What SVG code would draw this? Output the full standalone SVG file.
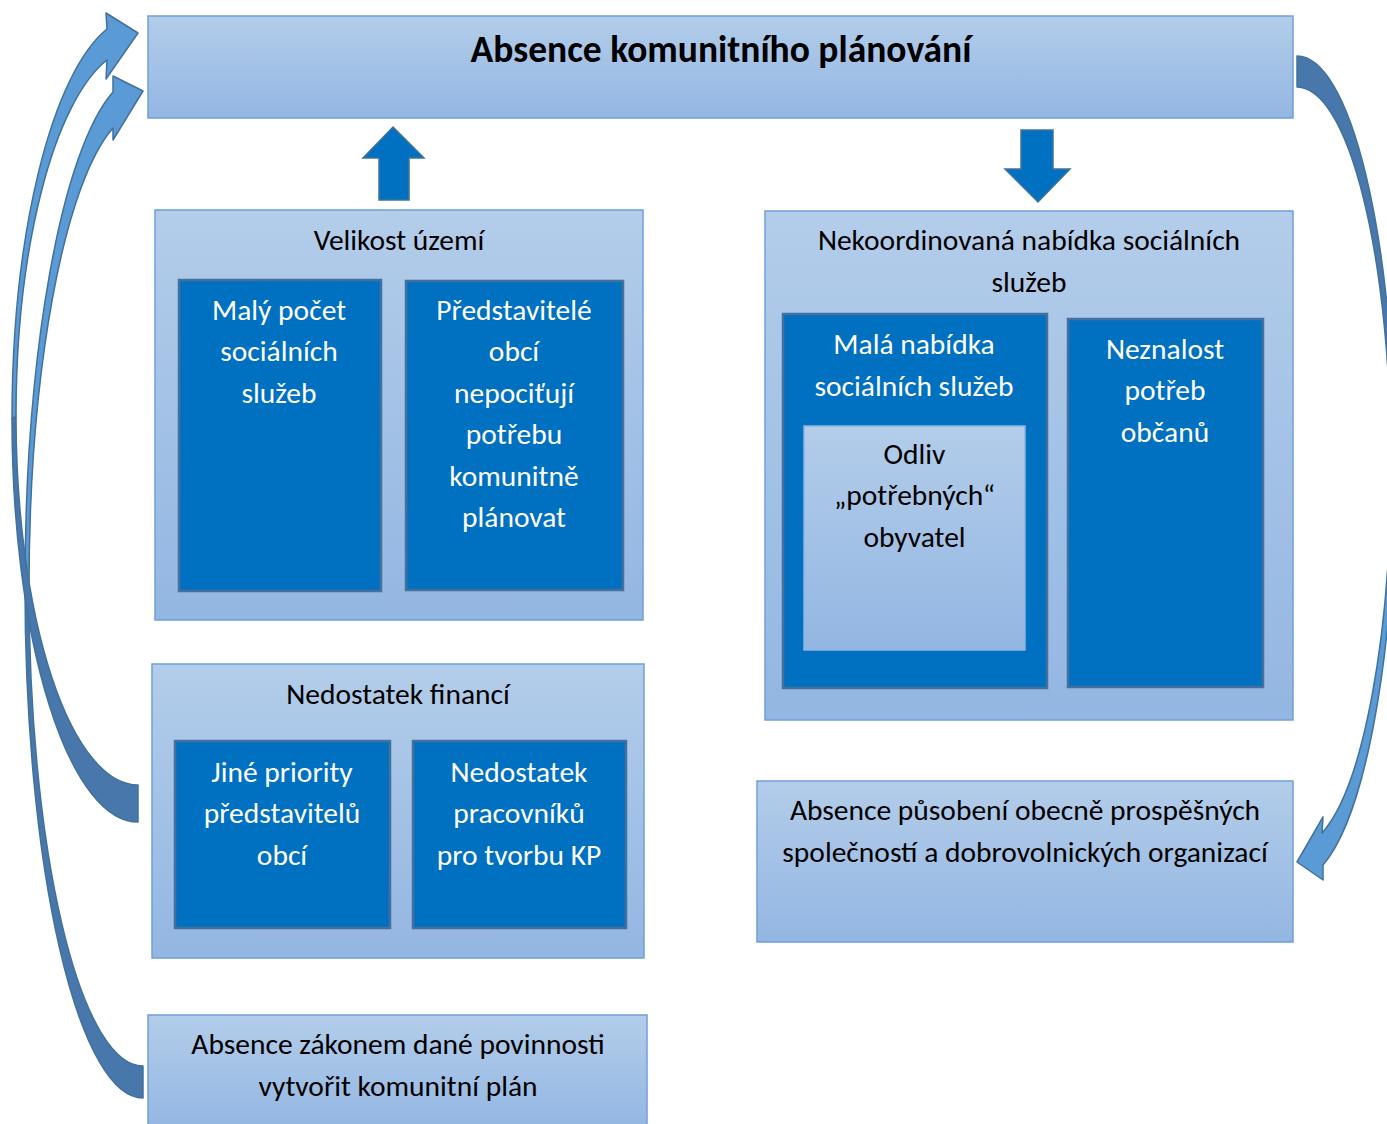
<svg xmlns="http://www.w3.org/2000/svg" width="1387" height="1124" viewBox="0 0 1387 1124">
<defs>
<linearGradient id="lg" x1="0" y1="0" x2="0" y2="1">
<stop offset="0" stop-color="#B3CDEA"/>
<stop offset="1" stop-color="#93B6E2"/>
</linearGradient>
<style>
.light{fill:url(#lg);stroke:#6FA1D9;stroke-width:1.5}
.dark{fill:#0070C0;stroke:#43709C;stroke-width:2.5}
.blk{fill:#000;font-family:Carlito,Lato,"Liberation Sans",sans-serif;font-size:29.5px;text-anchor:middle}
.wht{fill:#fff;font-family:Carlito,Lato,"Liberation Sans",sans-serif;font-size:29.5px;text-anchor:middle}
.ttl{fill:#000;font-family:Carlito,Lato,"Liberation Sans",sans-serif;font-size:37.5px;font-weight:bold;text-anchor:middle}
.front{fill:#5B9BD5;stroke:#41719C;stroke-width:1.5;stroke-linejoin:round}
.back{fill:#4878AB;stroke:#41719C;stroke-width:1.5;stroke-linejoin:round}
.blk-arrow{fill:#0070C0;stroke:#41719C;stroke-width:1.5}
</style>
</defs>
<rect width="1387" height="1124" fill="#fff"/>

<g id="connectors">
<polygon class="blk-arrow" points="393,127 424,158 409,158 409,200 379,200 379,158 363,158"/>
<polygon class="blk-arrow" points="1021,130 1053,130 1053,169 1070,169 1038,202 1005,169 1021,169"/>
<path class="back" d="M25,587 A118 511.4 0 0 0 143,1098 L143,1066 A114 477.4 0 0 1 29,589 Z"/>
<path class="front" d="M143,91 L113,76 L113,92 A118 511.4 0 0 0 25,587 L29,589 A114 477.4 0 0 1 113,128 L113,140 Z"/>
<path class="back" d="M12,419 A126 403 0 0 0 138,822 L138,785 A122 368.6 0 0 1 16,416 Z"/>
<path class="front" d="M138,33 L106,13 L107,29 A126 403 0 0 0 12,419 L16,416 A122 368.6 0 0 1 107,60 L106,79 Z"/>
<path class="back" d="M1297,56 A98 411.9 0 0 1 1395,467.9 L1391,466.8 A94 379.8 0 0 0 1297,87 Z"/>
<path class="front" d="M1395,467.9 A98 411.9 0 0 1 1323,865 L1323,880 L1297,862 L1323,817 L1322,833 A94 379.8 0 0 0 1391,466.8 Z"/>
</g>

<g id="top">
<rect class="light" x="148" y="16" width="1145" height="102"/>
<text class="ttl" x="721" y="62">Absence komunitního plánování</text>
</g>

<g id="velikost">
<rect class="light" x="155" y="210" width="488" height="410"/>
<text class="blk" x="399" y="249.5">Velikost území</text>
</g>
<g id="maly-pocet">
<rect class="dark" x="179" y="280" width="202" height="311"/>
<text class="wht" x="279" y="319.5">Malý počet</text>
<text class="wht" x="279" y="361">sociálních</text>
<text class="wht" x="279" y="402.5">služeb</text>
</g>
<g id="predstavitele">
<rect class="dark" x="406" y="281" width="217" height="309"/>
<text class="wht" x="514" y="319.5">Představitelé</text>
<text class="wht" x="514" y="361">obcí</text>
<text class="wht" x="514" y="402.5">nepociťují</text>
<text class="wht" x="514" y="444">potřebu</text>
<text class="wht" x="514" y="485.5">komunitně</text>
<text class="wht" x="514" y="527">plánovat</text>
</g>

<g id="financi">
<rect class="light" x="152" y="664" width="492" height="294"/>
<text class="blk" x="398" y="703.5">Nedostatek financí</text>
</g>
<g id="priority">
<rect class="dark" x="175" y="741" width="215" height="187"/>
<text class="wht" x="282" y="781.5">Jiné priority</text>
<text class="wht" x="282" y="823">představitelů</text>
<text class="wht" x="282" y="864.5">obcí</text>
</g>
<g id="pracovniku">
<rect class="dark" x="413" y="741" width="213" height="187"/>
<text class="wht" x="519" y="781.5">Nedostatek</text>
<text class="wht" x="519" y="823">pracovníků</text>
<text class="wht" x="519" y="864.5">pro tvorbu KP</text>
</g>

<g id="zakon">
<rect class="light" x="148" y="1015" width="499" height="114"/>
<text class="blk" x="398" y="1053.5">Absence zákonem dané povinnosti</text>
<text class="blk" x="398" y="1095.5">vytvořit komunitní plán</text>
</g>

<g id="nekoordinovana">
<rect class="light" x="765" y="211" width="528" height="509"/>
<text class="blk" x="1029" y="249.5">Nekoordinovaná nabídka sociálních</text>
<text class="blk" x="1029" y="291.5">služeb</text>
</g>
<g id="mala-nabidka">
<rect class="dark" x="783" y="314" width="264" height="374"/>
<text class="wht" x="914" y="354">Malá nabídka</text>
<text class="wht" x="914" y="395.5">sociálních služeb</text>
</g>
<g id="odliv">
<rect class="light" x="804" y="426" width="221" height="224" style="stroke:#8DB4E2"/>
<text class="blk" x="914.5" y="463.5">Odliv</text>
<text class="blk" x="914.5" y="505">„potřebných“</text>
<text class="blk" x="914.5" y="546.5">obyvatel</text>
</g>
<g id="neznalost">
<rect class="dark" x="1068" y="319" width="195" height="368"/>
<text class="wht" x="1165" y="358.5">Neznalost</text>
<text class="wht" x="1165" y="400">potřeb</text>
<text class="wht" x="1165" y="441.5">občanů</text>
</g>

<g id="pusobeni">
<rect class="light" x="757" y="781" width="536" height="161"/>
<text class="blk" x="1025" y="819.5">Absence působení obecně prospěšných</text>
<text class="blk" x="1025" y="861.5">společností a dobrovolnických organizací</text>
</g>
</svg>
